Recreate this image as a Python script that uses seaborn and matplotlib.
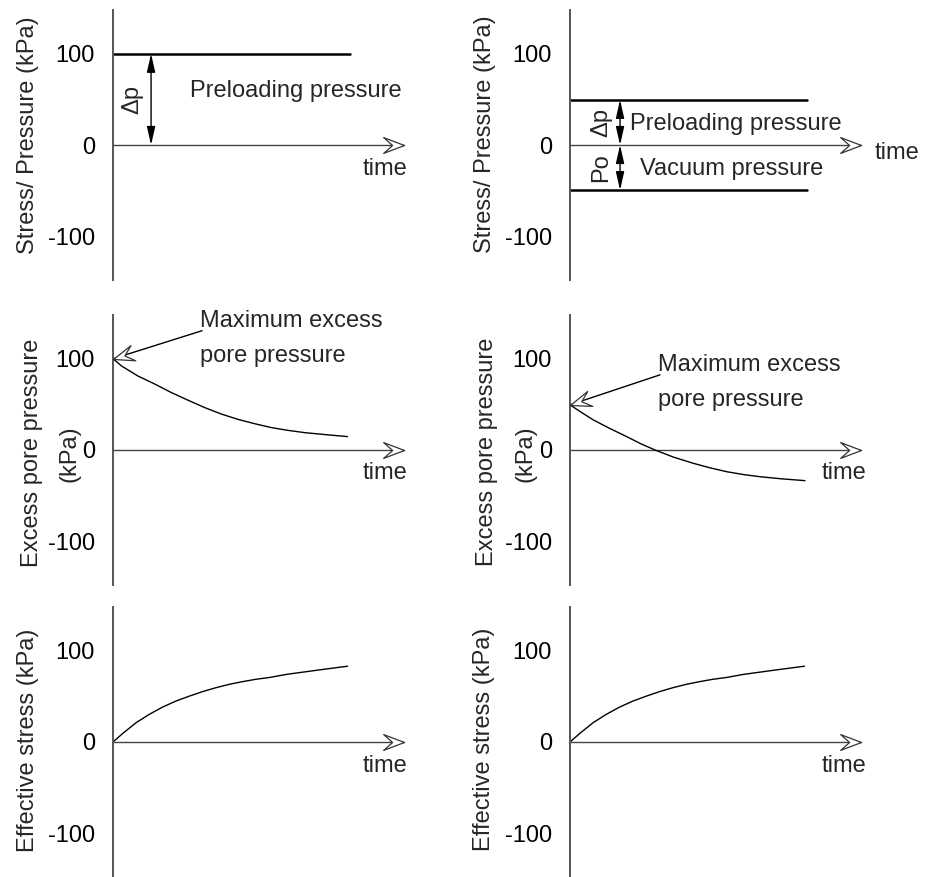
import matplotlib
matplotlib.use("Agg")
import matplotlib.pyplot as plt
import seaborn as sns
import numpy as np
from matplotlib.path import Path
from matplotlib.markers import MarkerStyle
from matplotlib.transforms import Affine2D

# ---------------- data ----------------
y_ticks = [100, 0, -100]
y_tick_labels = ["100", "0", "-100"]

ylabels = [["Stress/ Pressure (kPa)"], ["Excess pore pressure", "(kPa)"], ["Effective stress (kPa)"]]
time_label = "time"

# row 1: applied pressures (time units arbitrary)
load_time = [0, 10.1]
preload_only = [100, 100]          # left: preloading only
preload_part = [49.5, 49.5]        # right: preloading part
vacuum_part = [-49.5, -49.5]       # right: vacuum part

# row 2: excess pore pressure
pore_time_left = [0, 0.37, 1.07, 1.8, 2.48, 3.2, 3.9, 4.6, 5.33, 6.05, 6.75, 7.45, 8.17, 9.1, 9.98]
pore_left = [100, 92, 81, 72, 63, 54.5, 46.5, 39.5, 33.5, 28.7, 24.5, 21.5, 19, 16.7, 14.7]
pore_time_right = [0, 0.5, 0.99, 1.7, 2.41, 3.0, 3.62, 4.4, 5.25, 5.95, 6.67, 7.4, 8.09, 9.0, 10.0]
pore_right = [49.5, 41, 33, 23.5, 14.7, 7, 0, -7.8, -14.6, -19.5, -23.8, -27, -29.3, -31.6, -33.6]

# row 3: effective stress
eff_time = [0, 0.42, 0.99, 1.55, 2.12, 2.69, 3.26, 3.82, 4.39, 4.96, 5.52, 6.09, 6.63,
            7.4, 8.17, 9.0, 9.98]
eff_left = [0, 9.5, 21.3, 30.4, 38.4, 45, 50.4, 55.3, 59.6, 63.3, 66.2, 68.8, 70.6,
            74.2, 76.9, 79.8, 83.1]
eff_right = [0, 9.5, 21.3, 30.4, 38.4, 45, 50.4, 55.3, 59.6, 63.3, 66.2, 68.8, 70.6,
             74.2, 76.9, 79.8, 83.1]

max_pore_text = "Maximum excess\npore pressure"

# ---------------- style ----------------
sns.set_theme(style="white")
plt.rcParams["font.family"] = ["Liberation Sans", "DejaVu Sans"]
FS = 17
AXIS_GRAY = "#555555"

W, H = 927, 877
fig = plt.figure(figsize=(W / 100, H / 100), dpi=100)
col_x = [113, 570]
row_top = [10, 315, 607]
AX_W, AX_H = 310, 270
PX_PER_T = 23.5
T_END = 12.4   # arrow tip of time axis

# notched open arrow head marker (points to +x, tip at origin)
head_path = Path([(0, 0), (-1, 0.38), (-0.57, 0), (-1, -0.38), (0, 0)],
                 [Path.MOVETO, Path.LINETO, Path.LINETO, Path.LINETO, Path.CLOSEPOLY])
HEAD_MS = 30


def head_marker(angle):
    return MarkerStyle(head_path, transform=Affine2D().rotate_deg(angle))


axes = [[None, None] for _ in range(3)]
for r in range(3):
    for c in range(2):
        ax = fig.add_axes([col_x[c] / W, 1 - (row_top[r] + AX_H) / H, AX_W / W, AX_H / H])
        ax.set_xlim(0, AX_W / PX_PER_T)
        ax.set_ylim(-148, 148)
        ax.patch.set_visible(False)
        for s in ["top", "right", "bottom"]:
            ax.spines[s].set_visible(False)
        ax.spines["left"].set_color(AXIS_GRAY)
        ax.spines["left"].set_linewidth(1.4)
        ax.set_xticks([])
        ax.set_yticks(y_ticks)
        ax.set_yticklabels(y_tick_labels, fontsize=FS, color="black")
        ax.tick_params(axis="y", length=0, pad=13)
        # time axis with open arrow head
        ax.plot([0, T_END], [0, 0], color="#444444", lw=1.0, zorder=2)
        ax.plot([T_END], [0], linestyle="none", marker=head_marker(0), markersize=HEAD_MS,
                markerfacecolor="white", markeredgecolor="#333333", markeredgewidth=0.9,
                zorder=3, clip_on=False)
        axes[r][c] = ax

# y labels (figure text, pixel-positioned; one entry per text line)
ylab_pos = [
    [[(28, 135)], [(485, 134)]],
    [[(32, 453), (70, 454)], [(487, 452), (526, 454)]],
    [[(28, 740)], [(484, 739)]],
]
for r in range(3):
    for c in range(2):
        for line, (x, y) in zip(ylabels[r], ylab_pos[r][c]):
            fig.text(x / W, 1 - y / H, line, rotation=90, ha="center", va="center",
                     fontsize=FS)


def dbl_arrow(ax, t, v0, v1):
    ax.annotate("", xy=(t, v1), xytext=(t, v0),
                arrowprops=dict(arrowstyle="<|-|>,head_length=1.1,head_width=0.25",
                                color="black", lw=1.0, shrinkA=0, shrinkB=0,
                                mutation_scale=10))


def pointer(ax, tail, tip):
    ax.plot([tail[0], tip[0]], [tail[1], tip[1]], color="black", lw=1.0, zorder=2)
    p0 = ax.transData.transform(tail)
    p1 = ax.transData.transform(tip)
    ang = np.degrees(np.arctan2(p1[1] - p0[1], p1[0] - p0[0]))
    ax.plot([tip[0]], [tip[1]], linestyle="none", marker=head_marker(ang), markersize=HEAD_MS,
            markerfacecolor="white", markeredgecolor="#333333", markeredgewidth=0.9,
            zorder=3, clip_on=False)


# ---------- row 1 ----------
ax = axes[0][0]
sns.lineplot(x=load_time, y=preload_only, ax=ax, color="black", lw=1.8)
dbl_arrow(ax, 1.62, 0, 100)
ax.text(0.81, 49.5, "\u0394p", rotation=90, ha="center", va="center", fontsize=FS)
ax.text(3.28, 52.7, "Preloading pressure", ha="left", va="baseline", fontsize=FS)
ax.text(10.64, -33, time_label, ha="left", va="baseline", fontsize=FS)

ax = axes[0][1]
sns.lineplot(x=load_time, y=preload_part, ax=ax, color="black", lw=1.8)
sns.lineplot(x=load_time, y=vacuum_part, ax=ax, color="black", lw=1.8)
dbl_arrow(ax, 2.13, 0, 49.5)
dbl_arrow(ax, 2.13, -49.5, 0)
ax.text(1.32, 25, "\u0394p", rotation=90, ha="center", va="center", fontsize=FS)
ax.text(1.32, -25, "Po", rotation=90, ha="center", va="center", fontsize=FS)
ax.text(2.55, 16.5, "Preloading pressure", ha="left", va="baseline", fontsize=FS)
ax.text(2.98, -33, "Vacuum pressure", ha="left", va="baseline", fontsize=FS)
ax.text(12.98, -15.4, time_label, ha="left", va="baseline", fontsize=FS)

# ---------- row 2 ----------
# (multi-line text: va='baseline' anchors the last line's baseline)
ax = axes[1][0]
sns.lineplot(x=pore_time_left, y=pore_left, ax=ax, color="black", lw=1.0)
pointer(ax, (3.79, 130.8), (0, pore_left[0]))
ax.text(3.70, 96.5, max_pore_text, ha="left", va="baseline", fontsize=FS, linespacing=1.75)
ax.text(10.64, -31.9, time_label, ha="left", va="baseline", fontsize=FS)

ax = axes[1][1]
sns.lineplot(x=pore_time_right, y=pore_right, ax=ax, color="black", lw=1.0)
pointer(ax, (3.83, 82.4), (0, pore_right[0]))
ax.text(3.74, 48.2, max_pore_text, ha="left", va="baseline", fontsize=FS, linespacing=1.75)
ax.text(10.72, -31.9, time_label, ha="left", va="baseline", fontsize=FS)

# ---------- row 3 ----------
ax = axes[2][0]
sns.lineplot(x=eff_time, y=eff_left, ax=ax, color="black", lw=1.0)
ax.text(10.64, -33, time_label, ha="left", va="baseline", fontsize=FS)

ax = axes[2][1]
sns.lineplot(x=eff_time, y=eff_right, ax=ax, color="black", lw=1.0)
ax.text(10.72, -33, time_label, ha="left", va="baseline", fontsize=FS)

for row in axes:
    for a in row:
        a.set_xlabel("")
        a.set_ylabel("")
        a.set_xlim(0, AX_W / PX_PER_T)
        a.set_ylim(-148, 148)

fig.savefig("out.png", dpi=100)
